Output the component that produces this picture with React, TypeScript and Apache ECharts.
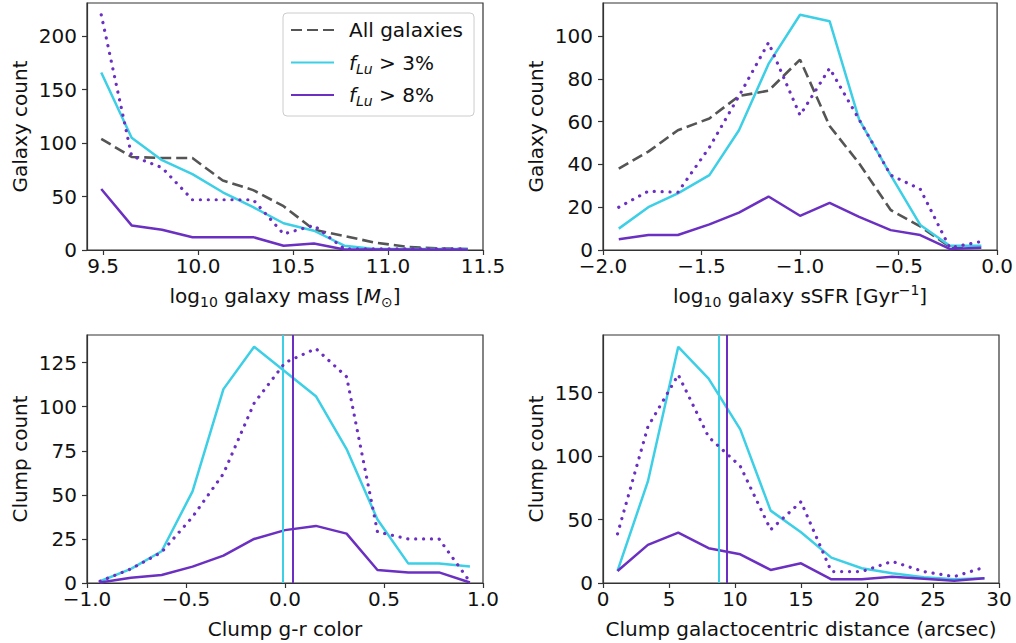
import React, { useEffect, useRef } from "react";
import * as echarts from "echarts";

// Bin centres and counts for each panel
const massBins = [9.49, 9.65, 9.81, 9.97, 10.13, 10.29, 10.45, 10.61, 10.77, 10.93, 11.1, 11.26, 11.42];
const massAll = [104, 87, 86, 86, 65, 56, 41, 19, 13, 7, 3, 1.5, 1];
const massLu3 = [166, 105, 84, 71, 54, 40, 25, 18, 4, 1, 1, 1, 1];
const massLu8 = [57, 23, 19, 12, 12, 12, 4, 6, 0.5, 0.5, 0.5, 0.5, 0.5];
const massLu8Norm = [220, 88, 77, 47, 47, 47, 15, 23, 1, 1, 1, 1, 1];

const ssfrBins = [-1.92, -1.77, -1.62, -1.46, -1.31, -1.16, -1.0, -0.85, -0.7, -0.54, -0.39, -0.24, -0.08];
const ssfrAll = [38, 46, 56, 61.5, 72, 74.5, 89, 58, 40.5, 18.7, 11, 1.5, 1];
const ssfrLu3 = [10, 20, 26.5, 35, 56, 87, 110, 107, 61, 35, 11.7, 2, 2];
const ssfrLu8 = [5, 7, 7, 12, 17.5, 25, 16, 22, 15.5, 9.3, 7, 0.5, 1];
const ssfrLu8Norm = [20, 27.5, 27, 48, 72, 97, 63, 85, 61, 35, 28.5, 1, 4];

const colorBins = [-0.934, -0.778, -0.623, -0.467, -0.311, -0.156, 0.0, 0.156, 0.311, 0.467, 0.623, 0.778, 0.934];
const colorLu3 = [1, 8, 18, 52, 110, 134, 120, 106, 76, 36, 11, 11, 9.3];
const colorLu8 = [0.3, 3, 4.5, 9.3, 15.5, 25, 30, 32.4, 28, 7.4, 6, 6, 0.3];
const colorLu8Norm = [1, 8, 17.5, 37.5, 62, 102, 125, 133, 117, 29, 25, 25, 0.7];
const colorMedianLu3 = -0.01;
const colorMedianLu8 = 0.045;

const distBins = [1.1, 3.4, 5.7, 8.0, 10.4, 12.7, 15.0, 17.3, 19.6, 21.9, 24.3, 26.6, 28.9];
const distLu3 = [9.5, 80, 186, 161, 121, 57, 40, 20, 11.6, 7.6, 4.5, 3, 3.7];
const distLu8 = [9.5, 30, 39.7, 27.4, 22.6, 10.3, 15.5, 2.9, 2.9, 5, 3.4, 1.8, 3.7];
const distLu8Norm = [38.7, 123, 164, 115, 92, 42, 64, 9, 9, 17, 9, 5, 12.4];
const distMedianLu3 = 8.8;
const distMedianLu8 = 9.35;

// Tick positions
const massTicks = [9.5, 10.0, 10.5, 11.0, 11.5];
const ssfrTicks = [-2.0, -1.5, -1.0, -0.5, 0.0];
const colorTicks = [-1.0, -0.5, 0.0, 0.5, 1.0];
const distTicks = [0, 5, 10, 15, 20, 25, 30];
const massCountTicks = [0, 50, 100, 150, 200];
const ssfrCountTicks = [0, 20, 40, 60, 80, 100];
const colorCountTicks = [0, 25, 50, 75, 100, 125];
const distCountTicks = [0, 50, 100, 150];

const NAME_ALL = "All galaxies";
const NAME_LU3 = "f_Lu > 3%";
const NAME_LU8 = "f_Lu > 8%";
const NAME_LU8_NORM = "f_Lu > 8% (normalised)";

const CYAN = "#3ccfe6";
const PURPLE = "#6b30c2";
const GREY = "#555555";
const FONT = "DejaVu Sans";
const FS = 20;

const pairs = (xs: number[], ys: number[]) => xs.map((x, i) => [x, ys[i]]);
const minus = (s: string) => s.replace("-", "\u2212");

const richParts = {
  s: { fontFamily: FONT, fontSize: 14, verticalAlign: "bottom", lineHeight: 12 },
  si: { fontFamily: FONT, fontSize: 14, fontStyle: "italic", verticalAlign: "bottom", lineHeight: 12 },
  p: { fontFamily: FONT, fontSize: 14, verticalAlign: "top", lineHeight: 12 },
  i: { fontFamily: FONT, fontSize: FS, fontStyle: "italic" },
};

function xAxis(gridIndex: number, min: number, max: number, ticks: number[], decimals: number, name: string) {
  return {
    type: "value",
    gridIndex,
    min,
    max,
    name,
    nameLocation: "middle",
    nameGap: 33,
    nameTextStyle: { fontFamily: FONT, fontSize: FS, color: "#111", lineHeight: 26, rich: richParts },
    axisLine: { show: true, onZero: false, lineStyle: { color: "#333", width: 1.2 } },
    axisTick: { show: true, length: 5, customValues: ticks, lineStyle: { color: "#333", width: 1.2 } },
    axisLabel: {
      show: true,
      customValues: ticks,
      margin: 9,
      fontFamily: FONT,
      fontSize: FS,
      lineHeight: 14,
      color: "#111",
      formatter: (v: number) => minus(v.toFixed(decimals)),
    },
    splitLine: { show: false },
  };
}

function yAxis(gridIndex: number, max: number, ticks: number[], name: string) {
  return {
    type: "value",
    gridIndex,
    min: 0,
    max,
    name,
    nameLocation: "middle",
    nameRotate: 90,
    nameGap: 57,
    nameTextStyle: { fontFamily: FONT, fontSize: FS, color: "#111" },
    axisLine: { show: true, onZero: false, lineStyle: { color: "#333", width: 1.2 } },
    axisTick: { show: true, length: 5, customValues: ticks, lineStyle: { color: "#333", width: 1.2 } },
    axisLabel: {
      show: true,
      customValues: ticks,
      margin: 10,
      fontFamily: FONT,
      fontSize: FS,
      lineHeight: 15,
      color: "#111",
      formatter: (v: number) => String(v),
    },
    splitLine: { show: false },
  };
}

function line(name: string, idx: number, xs: number[], ys: number[], kind: "all" | "lu3" | "lu8" | "norm", median?: number) {
  const style: any =
    kind === "all"
      ? { color: GREY, width: 2.6, type: [11, 5] }
      : kind === "lu3"
      ? { color: CYAN, width: 2.5, type: "solid" }
      : kind === "lu8"
      ? { color: PURPLE, width: 2.5, type: "solid" }
      : { color: PURPLE, width: 3.2, type: [0.1, 7.8], cap: "round" };
  const s: any = {
    type: "line",
    name,
    xAxisIndex: idx,
    yAxisIndex: idx,
    data: pairs(xs, ys),
    symbol: "none",
    showSymbol: false,
    lineStyle: style,
    itemStyle: { color: style.color },
    z: kind === "norm" ? 5 : 3,
  };
  if (median !== undefined) {
    s.markLine = {
      silent: true,
      symbol: "none",
      label: { show: false },
      lineStyle: { color: style.color, width: 2, type: "solid" },
      data: [{ xAxis: median }],
    };
  }
  return s;
}

export default function App() {
  const ref = useRef<HTMLDivElement>(null);

  useEffect(() => {
    if (!ref.current) return;
    const chart = echarts.init(ref.current, undefined, { renderer: "svg" });

    const option: any = {
      animation: false,
      backgroundColor: "#ffffff",
      textStyle: { fontFamily: FONT },
      grid: [
        { left: 87, top: 3, width: 396, height: 247 },
        { left: 603, top: 3, width: 396, height: 247 },
        { left: 87, top: 335, width: 396, height: 248 },
        { left: 603, top: 335, width: 396, height: 248 },
      ].map((g) => ({ ...g, show: true, borderColor: "#333", borderWidth: 1.2, containLabel: false })),
      xAxis: [
        xAxis(0, 9.415, 11.5, massTicks, 1, "log{s|10} galaxy mass [{i|M}{s|\u2299}]"),
        xAxis(1, -2, 0, ssfrTicks, 1, "log{s|10} galaxy sSFR [Gyr{p|\u22121}]"),
        xAxis(2, -1, 1, colorTicks, 1, "Clump g-r color"),
        xAxis(3, 0, 30, distTicks, 0, "Clump galactocentric distance (arcsec)"),
      ],
      yAxis: [
        yAxis(0, 231, massCountTicks, "Galaxy count"),
        yAxis(1, 115.5, ssfrCountTicks, "Galaxy count"),
        yAxis(2, 140.7, colorCountTicks, "Clump count"),
        yAxis(3, 195.3, distCountTicks, "Clump count"),
      ],
      legend: {
        show: true,
        orient: "vertical",
        left: 283,
        top: 13,
        padding: [4, 11, 8, 7],
        itemWidth: 43,
        itemHeight: 14,
        itemGap: 6.5,
        backgroundColor: "#ffffff",
        borderColor: "#cccccc",
        borderWidth: 1,
        borderRadius: 4,
        selectedMode: false,
        itemStyle: { opacity: 0, borderWidth: 0 },
        data: [NAME_ALL, NAME_LU3, NAME_LU8],
        formatter: (name: string) =>
          name.startsWith("f_Lu") ? `{i|f}{si|Lu} ${name.slice(5)}` : name,
        textStyle: {
          fontFamily: FONT,
          fontSize: FS,
          color: "#111",
          lineHeight: 26,
          padding: [0, 0, 0, 10],
          rich: richParts,
        },
      },
      series: [
        line(NAME_ALL, 0, massBins, massAll, "all"),
        line(NAME_LU3, 0, massBins, massLu3, "lu3"),
        line(NAME_LU8, 0, massBins, massLu8, "lu8"),
        line(NAME_LU8_NORM, 0, massBins, massLu8Norm, "norm"),

        line(NAME_ALL, 1, ssfrBins, ssfrAll, "all"),
        line(NAME_LU3, 1, ssfrBins, ssfrLu3, "lu3"),
        line(NAME_LU8, 1, ssfrBins, ssfrLu8, "lu8"),
        line(NAME_LU8_NORM, 1, ssfrBins, ssfrLu8Norm, "norm"),

        line(NAME_LU3, 2, colorBins, colorLu3, "lu3", colorMedianLu3),
        line(NAME_LU8, 2, colorBins, colorLu8, "lu8", colorMedianLu8),
        line(NAME_LU8_NORM, 2, colorBins, colorLu8Norm, "norm"),

        line(NAME_LU3, 3, distBins, distLu3, "lu3", distMedianLu3),
        line(NAME_LU8, 3, distBins, distLu8, "lu8", distMedianLu8),
        line(NAME_LU8_NORM, 3, distBins, distLu8Norm, "norm"),
      ],
    };

    chart.setOption(option);
    return () => chart.dispose();
  }, []);

  return (
    <div
      ref={ref}
      style={{ position: "absolute", left: 0, top: 0, width: 1016, height: 643, background: "#fff" }}
    />
  );
}
